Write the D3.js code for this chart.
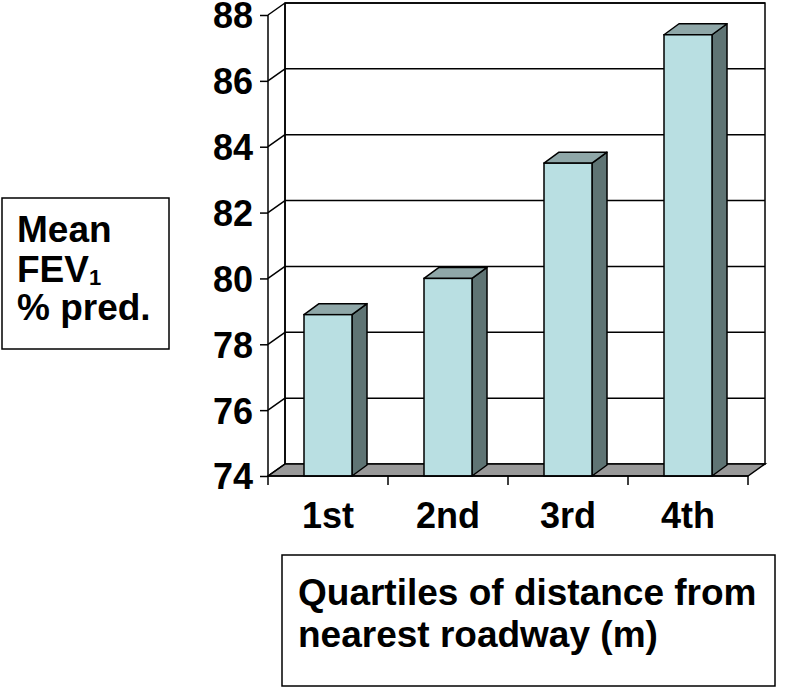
<!DOCTYPE html>
<html>
<head>
<meta charset="utf-8">
<title>Mean FEV1 by distance quartile</title>
<style>
  body { margin: 0; background: #fff; }
  text { font-family: "Liberation Sans", Arial, sans-serif; font-weight: bold; fill: #000; }
</style>
</head>
<body>
<div id="chart"></div>
<script src="https://d3js.org/d3.v7.min.js"></script>
<script>
// data
var quartiles = ["1st", "2nd", "3rd", "4th"];
var meanFev = [78.9, 80.0, 83.5, 87.4];
var yTicks = [74, 76, 78, 80, 82, 84, 86, 88];

var width = 789, height = 687;

// front plane of the 3d box (window.top is read-only, so other names)
var plotLeft = 268, plotRight = 748, plotBottom = 476, plotTop = 15;
// depth of the walls and of the columns
var wx = 17, wy = -12;
var bx = 15, by = -11;

var svg = d3.select("#chart").append("svg")
  .attr("width", width)
  .attr("height", height);

var y = d3.scaleLinear().domain([74, 88]).range([plotBottom, plotTop]);
var x = d3.scaleBand().domain(quartiles).range([plotLeft, plotRight])
  .paddingInner(0.6).paddingOuter(0.3);

// back wall
svg.append("rect")
  .attr("x", plotLeft + wx).attr("y", plotTop + wy)
  .attr("width", plotRight - plotLeft).attr("height", plotBottom - plotTop)
  .attr("fill", "#fff").attr("stroke", "#000").attr("stroke-width", 1.5);

// floor
svg.append("path")
  .attr("d", "M" + plotLeft + "," + plotBottom + "L" + plotRight + "," + plotBottom +
             "L" + (plotRight + wx) + "," + (plotBottom + wy) + "L" + (plotLeft + wx) + "," + (plotBottom + wy) + "Z")
  .attr("fill", "#999").attr("stroke", "#000").attr("stroke-width", 1.5);

// gridlines: across the back wall and down the side wall
yTicks.forEach(function(t) {
  var yy = y(t);
  if (t > 74) {
    svg.append("line")
      .attr("x1", plotLeft + wx).attr("x2", plotRight + wx)
      .attr("y1", yy + wy).attr("y2", yy + wy)
      .attr("stroke", "#000").attr("stroke-width", 1.5);
  }
  svg.append("line")
    .attr("x1", plotLeft).attr("y1", yy)
    .attr("x2", plotLeft + wx).attr("y2", yy + wy)
    .attr("stroke", "#000").attr("stroke-width", 1.5);
});

// side wall back edge
svg.append("line")
  .attr("x1", plotLeft + wx).attr("x2", plotLeft + wx)
  .attr("y1", plotTop + wy).attr("y2", plotBottom + wy)
  .attr("stroke", "#000").attr("stroke-width", 1.5);

// columns
var bars = svg.selectAll(".bar")
  .data(meanFev)
  .enter().append("g").attr("class", "bar");

bars.append("path") // side
  .attr("d", function(d, i) {
    var x1 = x(quartiles[i]) + x.bandwidth(), y1 = y(d);
    return "M" + x1 + "," + plotBottom + "L" + x1 + "," + y1 +
           "L" + (x1 + bx) + "," + (y1 + by) + "L" + (x1 + bx) + "," + (plotBottom + by) + "Z";
  })
  .attr("fill", "#5f7474").attr("stroke", "#000").attr("stroke-width", 1.5)
  .attr("stroke-linejoin", "round");

bars.append("path") // top
  .attr("d", function(d, i) {
    var x0 = x(quartiles[i]), x1 = x0 + x.bandwidth(), y1 = y(d);
    return "M" + x0 + "," + y1 + "L" + x1 + "," + y1 +
           "L" + (x1 + bx) + "," + (y1 + by) + "L" + (x0 + bx) + "," + (y1 + by) + "Z";
  })
  .attr("fill", "#8fa7a8").attr("stroke", "#000").attr("stroke-width", 1.5)
  .attr("stroke-linejoin", "round");

bars.append("rect") // front
  .attr("x", function(d, i) { return x(quartiles[i]); })
  .attr("y", function(d) { return y(d); })
  .attr("width", x.bandwidth())
  .attr("height", function(d) { return plotBottom - y(d); })
  .attr("fill", "#b9dfe2").attr("stroke", "#000").attr("stroke-width", 1.5);

// y axis
var yAxis = svg.append("g")
  .attr("transform", "translate(" + plotLeft + ",0)")
  .call(d3.axisLeft(y).tickValues(yTicks).tickSize(8).tickPadding(7).tickFormat(d3.format("d")));
yAxis.selectAll("line, path").attr("stroke", "#000").attr("stroke-width", 1.5);
yAxis.select(".domain").attr("d", "M0," + plotTop + "V" + plotBottom);
yAxis.selectAll("text")
  .attr("font-size", 36).attr("font-family", null).attr("fill", "#000")
  .attr("dy", "0.36em");

// x axis: ticks between categories
var xAxis = svg.append("g").attr("transform", "translate(0," + plotBottom + ")");
xAxis.append("line").attr("x1", plotLeft).attr("x2", plotRight)
  .attr("stroke", "#000").attr("stroke-width", 1.5);
d3.range(quartiles.length + 1).forEach(function(i) {
  var xx = plotLeft + i * x.step();
  xAxis.append("line").attr("x1", xx).attr("x2", xx).attr("y1", 0).attr("y2", 9)
    .attr("stroke", "#000").attr("stroke-width", 1.5);
});
xAxis.selectAll(".cat")
  .data(quartiles)
  .enter().append("text")
  .attr("x", function(d) { return x(d) + x.bandwidth() / 2; })
  .attr("y", 52)
  .attr("text-anchor", "middle")
  .attr("font-size", 36)
  .text(function(d) { return d; });

// y title box
svg.append("rect")
  .attr("x", 2).attr("y", 198).attr("width", 167).attr("height", 151)
  .attr("fill", "#fff").attr("stroke", "#000").attr("stroke-width", 1.5);
var yt = svg.append("text").attr("x", 17).attr("font-size", 37);
yt.append("tspan").attr("x", 17).attr("y", 242).text("Mean");
yt.append("tspan").attr("x", 17).attr("y", 282).text("FEV");
yt.append("tspan").attr("font-size", 22).attr("dy", 3).text("1");
yt.append("tspan").attr("x", 17).attr("y", 320).text("% pred.");

// x title box
svg.append("rect")
  .attr("x", 282).attr("y", 555).attr("width", 493).attr("height", 131)
  .attr("fill", "#fff").attr("stroke", "#000").attr("stroke-width", 1.5);
var xt = svg.append("text").attr("font-size", 37);
xt.append("tspan").attr("x", 298).attr("y", 605).text("Quartiles of distance from");
xt.append("tspan").attr("x", 298).attr("y", 647).text("nearest roadway (m)");
</script>
</body>
</html>
